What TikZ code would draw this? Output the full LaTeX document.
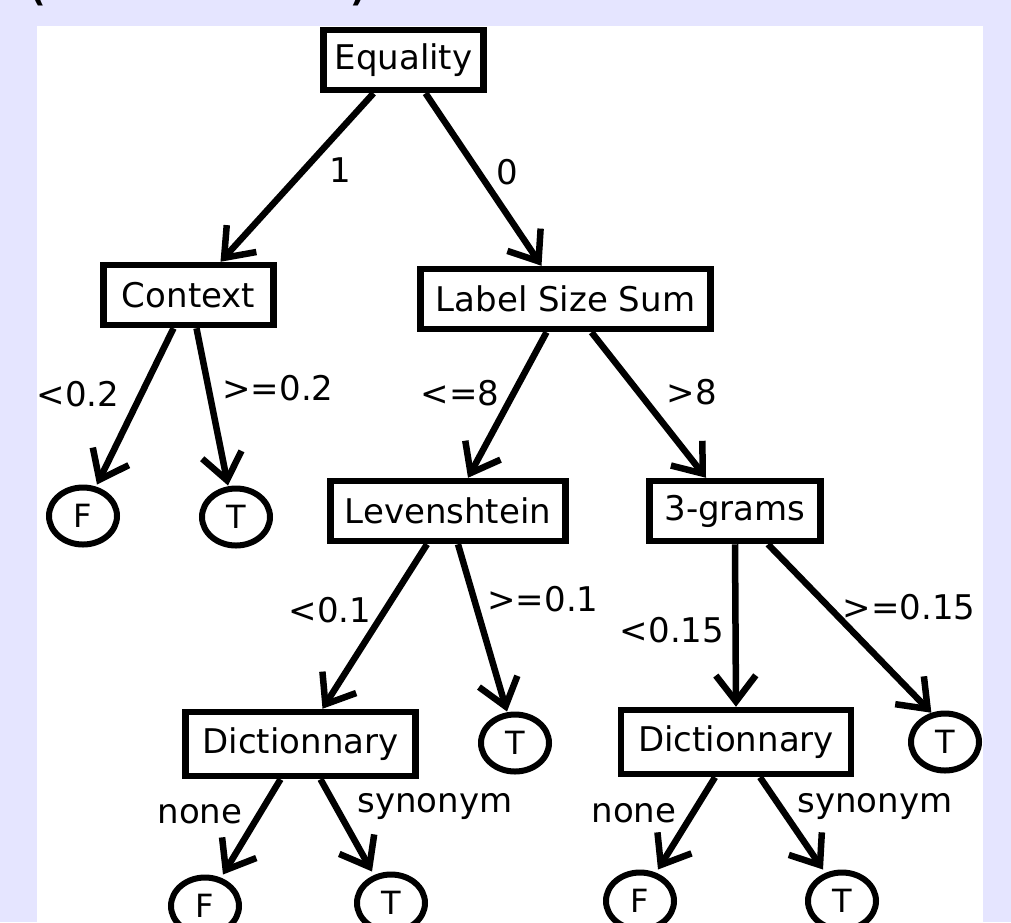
\documentclass[tikz,border=0pt]{standalone}
\usepackage{fontspec}
\setmainfont{DejaVu Sans}
\usetikzlibrary{arrows.meta,shapes.geometric}
\definecolor{lavender}{RGB}{229,229,255}

\begin{document}
\begin{tikzpicture}[x=1pt,y=-1pt,
    every node/.style={font=\fontsize{34}{40}\selectfont},
    test/.style={draw,line width=6.5pt,rectangle,inner xsep=10pt,minimum height=60pt},
    leaf/.style={draw,line width=6pt,ellipse,inner sep=0pt,minimum width=68pt,minimum height=57pt,font=\fontsize{32}{38}\selectfont},
    branch/.style={line width=6.5pt,-{Straight Barb[length=26pt,width=40pt]}}
]
    \fill[lavender] (0,0) rectangle (1011,922);
    \fill[white] (37,26) rectangle (983,922);
    \useasboundingbox (0,0) rectangle (1011,922);
    \node[anchor=base,font=\bfseries\fontsize{34}{40}\selectfont] (popen) at (38,1) {(};
    \node[anchor=base,font=\bfseries\fontsize{34}{40}\selectfont] (pclose) at (358,1) {)};

    \node[test,minimum width=160pt] (eq) at (403.5,60) {Equality};
    \node[test,minimum width=170pt] (ctx) at (188.5,295) {Context};
    \node[test,minimum width=290pt] (lss) at (565.5,299) {Label Size Sum};
    \node[test,minimum width=235pt] (lev) at (448,511) {Levenshtein};
    \node[test,minimum width=171pt] (tg) at (735,511) {3-grams};
    \node[test,minimum width=230pt,minimum height=64pt] (dicta) at (300.5,744) {Dictionnary};
    \node[test,minimum width=230pt,minimum height=64pt] (dictb) at (736,742) {Dictionnary};

    \node[leaf] (fa) at (83,516) {F};
    \node[leaf] (ta) at (236,517) {T};
    \node[leaf] (tb) at (515,743) {T};
    \node[leaf] (tc) at (945,742) {T};
    \node[leaf] (fb) at (205,906) {F};
    \node[leaf] (td) at (391,903) {T};
    \node[leaf] (fc) at (640,901) {F};
    \node[leaf] (te) at (842,901) {T};

    \draw[branch] ([xshift=-30pt]eq.south) -- ([xshift=32pt]ctx.north);
    \draw[branch] ([xshift=22pt]eq.south) -- ([xshift=-24pt]lss.north);
    \draw[branch] ([xshift=-15pt]ctx.south) -- ([xshift=14pt]fa.north);
    \draw[branch] ([xshift=8pt]ctx.south) -- ([xshift=-8pt]ta.north);
    \draw[branch] ([xshift=-19pt]lss.south) -- ([xshift=20pt]lev.north);
    \draw[branch] ([xshift=26pt]lss.south) -- ([xshift=-29pt]tg.north);
    \draw[branch] ([xshift=-21pt]lev.south) -- ([xshift=22pt]dicta.north);
    \draw[branch] ([xshift=10pt]lev.south) -- ([xshift=-8pt]tb.north);
    \draw[branch] (tg.south) -- (dictb.north);
    \draw[branch] ([xshift=33pt]tg.south) -- (tc.115);
    \draw[branch] ([xshift=-20pt]dicta.south) -- ([xshift=18pt]fb.north);
    \draw[branch] ([xshift=20pt]dicta.south) -- ([xshift=-19pt]td.north);
    \draw[branch] ([xshift=-21pt]dictb.south) -- ([xshift=18pt]fc.north);
    \draw[branch] ([xshift=24pt]dictb.south) -- ([xshift=-19pt]te.north);

    \node (l1) at (340,170) {1};
    \node (l0) at (507,172) {0};
    \node (lctxa) at (78,394) {<0.2};
    \node (lctxb) at (278,388) {>=0.2};
    \node (llssa) at (460,393) {<=8};
    \node (llssb) at (692,392) {>8};
    \node (lleva) at (330,610) {<0.1};
    \node (llevb) at (543,599) {>=0.1};
    \node (ltga) at (672,630) {<0.15};
    \node (ltgb) at (909,607) {>=0.15};
    \node (ldaa) at (200,814) {none};
    \node (ldab) at (435,806) {synonym};
    \node (ldba) at (634,813) {none};
    \node (ldbb) at (875,806) {synonym};
\end{tikzpicture}
\end{document}
